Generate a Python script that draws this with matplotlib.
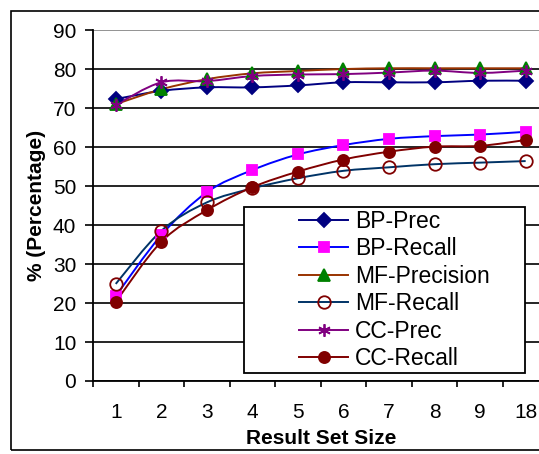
import matplotlib
matplotlib.use('Agg')
import matplotlib.pyplot as plt
import numpy as np
from matplotlib.path import Path
from matplotlib.patches import PathPatch, Rectangle
from matplotlib.lines import Line2D

plt.rcParams['font.family'] = ['Liberation Sans', 'DejaVu Sans']

# Datos
set_sizes = ['1', '2', '3', '4', '5', '6', '7', '8', '9', '18']
bp_prec = [72.3, 74.4, 75.3, 75.3, 75.8, 76.6, 76.6, 76.6, 77.0, 77.0]
bp_recall = [21.8, 37.4, 48.4, 54.1, 58.1, 60.5, 62.1, 62.8, 63.2, 63.9]
mf_precision = [71.0, 74.8, 77.4, 78.9, 79.5, 80.0, 80.2, 80.2, 80.2, 80.2]
mf_recall = [24.9, 38.5, 45.8, 49.4, 52.0, 53.9, 54.8, 55.6, 56.0, 56.4]
cc_prec = [70.8, 76.6, 76.9, 78.2, 78.6, 78.7, 79.1, 79.6, 79.0, 79.6]
cc_recall = [20.3, 35.7, 43.8, 49.7, 53.7, 56.8, 58.8, 60.1, 60.3, 61.8]

series = [
    ('BP-Prec', bp_prec, '#000080', 'D', '#000080', '#000080', 7),
    ('BP-Recall', bp_recall, '#0000FF', 's', '#FF00FF', '#FF00FF', 7),
    ('MF-Precision', mf_precision, '#993300', '^', '#008000', '#008000', 8),
    ('MF-Recall', mf_recall, '#003366', 'o', 'none', '#800000', 9),
    ('CC-Prec', cc_prec, '#800080', (6, 2, 0), '#800080', '#800080', 9),
    ('CC-Recall', cc_recall, '#800000', 'o', '#800000', '#800000', 8),
]


def smooth_path(x, y):
    # curva suavizada tipo Excel (Catmull-Rom a Bezier)
    pts = np.column_stack([x, y]).astype(float)
    verts = [pts[0]]
    codes = [Path.MOVETO]
    n = len(pts)
    for i in range(n - 1):
        p0 = pts[i - 1] if i > 0 else pts[i]
        p1 = pts[i]
        p2 = pts[i + 1]
        p3 = pts[i + 2] if i + 2 < n else pts[i + 1]
        c1 = p1 + (p2 - p0) / 6.0
        c2 = p2 - (p3 - p1) / 6.0
        verts += [c1, c2, p2]
        codes += [Path.CURVE4] * 3
    return Path(verts, codes)


def main():
    fig = plt.figure(figsize=(5.39, 4.54), dpi=100)
    ax = fig.add_axes([0.1725, 0.1608, 0.845, 0.773])

    x = np.arange(1, len(set_sizes) + 1)
    handles = []
    for label, vals, lc, mk, mfc, mec, ms in series:
        ax.add_patch(PathPatch(smooth_path(x, vals), facecolor='none',
                               edgecolor=lc, lw=1.4, zorder=3))
        ax.plot(x, vals, linestyle='none', marker=mk, markersize=ms,
                markerfacecolor=mfc, markeredgecolor=mec,
                markeredgewidth=1.3, zorder=4)
        handles.append(Line2D([], [], color=lc, lw=1.4, marker=mk,
                              markersize=ms, markerfacecolor=mfc,
                              markeredgecolor=mec, markeredgewidth=1.3,
                              label=label))

    ax.set_xlim(0.5, len(set_sizes) + 0.5)
    ax.set_ylim(0, 90)
    ax.set_yticks(np.arange(0, 91, 10))
    ax.set_xticks(x)
    ax.set_xticklabels(set_sizes)
    ax.set_xticks(np.arange(0.5, len(set_sizes) + 1, 1), minor=True)
    ax.tick_params(axis='x', which='major', length=0, pad=16, labelsize=15)
    ax.tick_params(axis='x', which='minor', length=4.5, width=1.2,
                   direction='out')
    ax.tick_params(axis='y', length=6, width=1.2, direction='out',
                   labelsize=15, pad=6)

    ax.yaxis.grid(True, color='black', lw=1.2)
    ax.set_axisbelow(True)
    for s in ['top', 'right']:
        ax.spines[s].set_visible(False)
    ax.spines['left'].set_linewidth(1.3)
    ax.spines['bottom'].set_linewidth(1.3)
    # la línea superior (90) es gris en el original
    ax.get_ygridlines()[-1].set_color('#808080')

    ax.set_xlabel('Result Set Size', fontsize=15, fontweight='bold',
                  labelpad=5)
    ax.set_ylabel('% (Percentage)', fontsize=15, fontweight='bold',
                  labelpad=5)

    # caja de la leyenda
    ax.add_patch(Rectangle((244 / 539, 81 / 454), 281 / 539, 166 / 454,
                           transform=fig.transFigure, facecolor='white',
                           edgecolor='black', lw=1.3, zorder=5,
                           clip_on=False))
    leg = ax.legend(handles=handles, loc='center left',
                    bbox_to_anchor=(299 / 539, 164 / 454),
                    bbox_transform=fig.transFigure,
                    fontsize=16.5, frameon=False,
                    borderaxespad=0, borderpad=0, handlelength=2.15,
                    handletextpad=0.3, labelspacing=0.19, numpoints=1)
    leg.set_zorder(6)

    # marco exterior
    fig.patches.append(Rectangle((11 / 539, 4 / 454), 1.2, 439 / 454,
                                 transform=fig.transFigure, fill=False,
                                 edgecolor='black', lw=1.2))

    fig.savefig('out.png', dpi=100)


if __name__ == '__main__':
    main()
